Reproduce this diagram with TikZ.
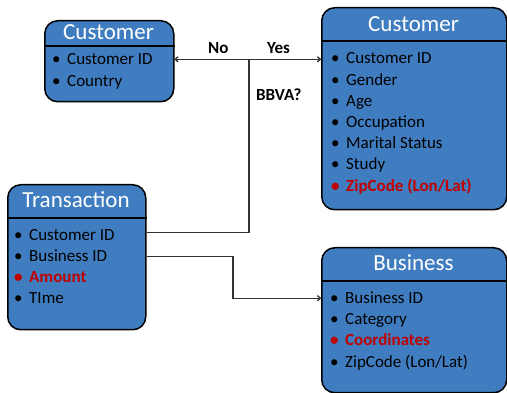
\documentclass[tikz,border=0pt]{standalone}
\usepackage{fontspec}
\setmainfont{Carlito}
\usetikzlibrary{arrows.meta}
\definecolor{entblue}{RGB}{63,125,192}
\definecolor{keyred}{RGB}{192,0,0}
\newcommand{\bull}{\makebox[15pt][l]{\textbullet}}
\begin{document}
\begin{tikzpicture}[x=1pt, y=-1pt,
    entity/.style={draw, line width=1.5pt, fill=entblue, rounded corners=13pt, anchor=north west, inner sep=0pt},
    ttl/.style={anchor=base, inner sep=0pt, text=white, font=\fontsize{23}{27}\selectfont},
    item/.style={anchor=base west, inner sep=0pt, font=\fontsize{17}{20}\selectfont},
    key/.style={item, text=keyred, font=\fontsize{17}{20}\selectfont\bfseries},
    lbl/.style={anchor=base west, inner sep=0pt, font=\fontsize{17}{20}\selectfont\bfseries},
    conn/.style={line width=1.3pt, draw=black!80},
    tip/.style={conn, -{To[length=4pt, width=6pt]}}]
  \useasboundingbox (0,0) rectangle (507,393);

  % entity boxes
  \node[entity, minimum width=129pt, minimum height=81pt] (custS) at (44,20) {};
  \node[entity, minimum width=185pt, minimum height=202pt] (custL) at (321,7) {};
  \node[entity, minimum width=138pt, minimum height=145pt] (trans) at (7,184) {};
  \node[entity, minimum width=185pt, minimum height=145pt] (bus) at (321,247) {};

  % header rules
  \draw[line width=1.5pt] ([yshift=-26pt]custS.north west) -- ([yshift=-26pt]custS.north east);
  \foreach \b in {custL, trans, bus}
    \draw[line width=1.5pt] ([yshift=-34pt]\b.north west) -- ([yshift=-34pt]\b.north east);

  % titles
  \node[ttl] (custSt) at (108.5,40) {Customer};
  \node[ttl] (custLt) at (413.5,32) {Customer};
  \node[ttl] (transt) at (76,208) {Transaction};
  \node[ttl] (bust) at (413.5,271) {Business};

  % small customer
  \node[item] (cs1) at (52,65) {\bull Customer ID};
  \node[item] (cs2) at (52,87) {\bull Country};

  % large customer
  \node[item] (cl1) at (331,64) {\bull Customer ID};
  \node[item] (cl2) at (331,85.2) {\bull Gender};
  \node[item] (cl3) at (331,106.4) {\bull Age};
  \node[item] (cl4) at (331,127.6) {\bull Occupation};
  \node[item] (cl5) at (331,148.8) {\bull Marital Status};
  \node[item] (cl6) at (331,170) {\bull Study};
  \node[key] (cl7) at (331,191.2) {\bull ZipCode (Lon/Lat)};

  % transaction
  \node[item] (tr1) at (14,241) {\bull Customer ID};
  \node[item] (tr2) at (14,262) {\bull Business ID};
  \node[key] (tr3) at (14,283) {\bull Amount};
  \node[item] (tr4) at (14,304) {\bull TIme};

  % business
  \node[item] (bu1) at (330,304) {\bull Business ID};
  \node[item] (bu2) at (330,325) {\bull Category};
  \node[key] (bu3) at (330,346) {\bull Coordinates};
  \node[item] (bu4) at (330,367) {\bull ZipCode (Lon/Lat)};

  % connectors
  \coordinate (split) at (249,59.3);
  \coordinate (bend) at (233,277);
  \draw[conn] ([yshift=3pt]trans.east |- tr1) -| (split);
  \draw[tip] (split) -- (custS.east |- split);
  \draw[tip] (split) -- (custL.west |- split);
  \draw[tip] (trans.east |- tr2) -| (bend) |- (bus.west |- bu1);

  % decision labels
  \node[lbl] (no) at (208,54) {No};
  \node[lbl] (yes) at (267,54) {Yes};
  \node[lbl] (ask) at (256,101) {BBVA?};
\end{tikzpicture}
\end{document}
